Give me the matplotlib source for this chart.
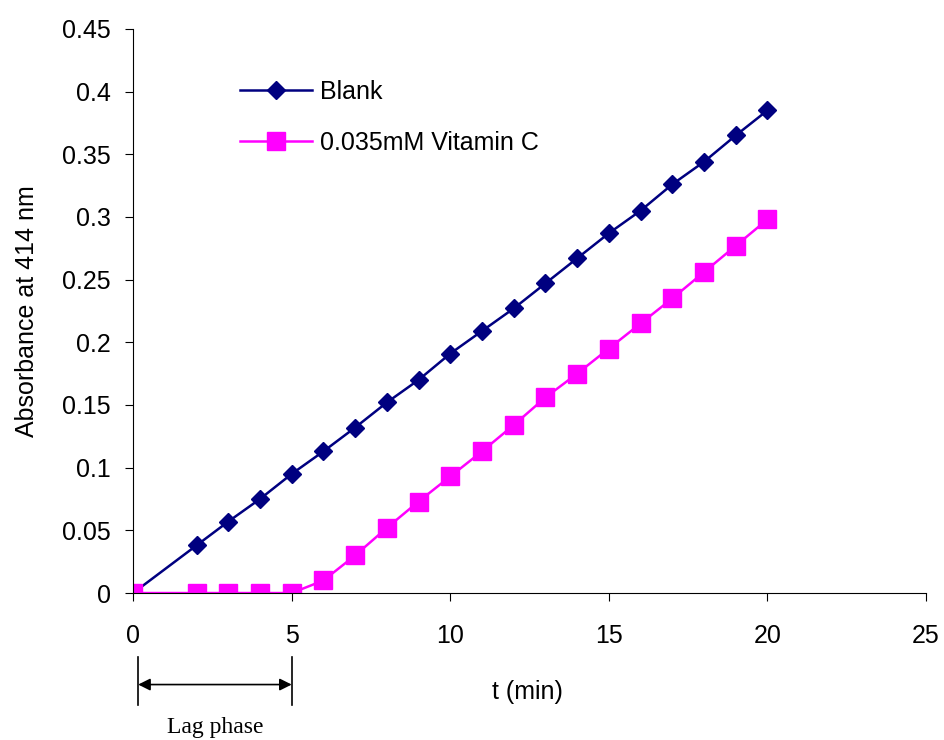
import numpy as np
import matplotlib
matplotlib.use("Agg")
import matplotlib.pyplot as plt

plt.rcParams['font.family'] = ['Liberation Sans', 'DejaVu Sans']

# blank: point at t=1 has no marker in the original
t_blank = [0, 1, 2, 3, 4, 5, 6, 7, 8, 9, 10, 11, 12, 13, 14, 15, 16, 17, 18, 19, 20]
abs_blank = [0, 0.019, 0.038, 0.057, 0.075, 0.095, 0.113, 0.132, 0.152, 0.170, 0.191,
             0.209, 0.227, 0.247, 0.267, 0.287, 0.305, 0.326, 0.344, 0.365, 0.385]
t_vitc = [0, 2, 3, 4, 5, 6, 7, 8, 9, 10, 11, 12, 13, 14, 15, 16, 17, 18, 19, 20]
abs_vitc = [0, 0, 0, 0, 0, 0.010, 0.030, 0.052, 0.073, 0.093, 0.113, 0.134, 0.156,
            0.175, 0.195, 0.215, 0.235, 0.256, 0.277, 0.298]

fig = plt.figure(figsize=(9.44, 7.4), dpi=100)
ax = fig.add_axes([0.141, 0.1986, 0.840, 0.7624])

marks = [i for i in range(len(t_blank)) if t_blank[i] != 1]
ax.plot(t_blank, abs_blank, color='#000080', lw=1.8, marker='D', ms=9.5,
        markevery=marks, label='Blank')
ax.plot(t_vitc, abs_vitc, color='#FF00FF', lw=1.8, marker='s', ms=12.5,
        label='0.035mM Vitamin C')

ax.set_xlim(0, 25)
ax.set_ylim(0, 0.45)
ax.set_xticks(np.arange(0, 26, 5))
ax.set_yticks(np.arange(0, 0.451, 0.05))
ax.set_yticklabels(['0', '0.05', '0.1', '0.15', '0.2', '0.25', '0.3', '0.35', '0.4', '0.45'])
ax.tick_params(labelsize=18, length=6, direction='out')
ax.tick_params(axis='x', pad=16)
ax.tick_params(axis='y', pad=10)
for s in ['top', 'right']:
    ax.spines[s].set_visible(False)
ax.set_ylabel('Absorbance at 414 nm', fontsize=18, labelpad=17)
ax.set_xlabel('t (min)', fontsize=18, x=0.497, labelpad=23)

leg = ax.legend(loc='upper left', bbox_to_anchor=(0.106, 0.95), frameon=False,
                fontsize=18, handlelength=2.9, labelspacing=1.1, handletextpad=0.3)

# lag phase marker
ax.plot([0.16, 0.16], [-0.051, -0.089], color='black', lw=1.2, clip_on=False)
ax.plot([5, 5], [-0.051, -0.089], color='black', lw=1.2, clip_on=False)
ax.annotate('', xy=(0.16, -0.073), xytext=(5, -0.073),
            arrowprops=dict(arrowstyle='<|-|>', color='black', lw=1.2,
                            shrinkA=0, shrinkB=0, mutation_scale=18),
            annotation_clip=False)
ax.text(2.6, -0.107, 'Lag phase', ha='center', va='center', fontsize=17,
        family='Liberation Serif')

fig.savefig('out.png', dpi=100)
